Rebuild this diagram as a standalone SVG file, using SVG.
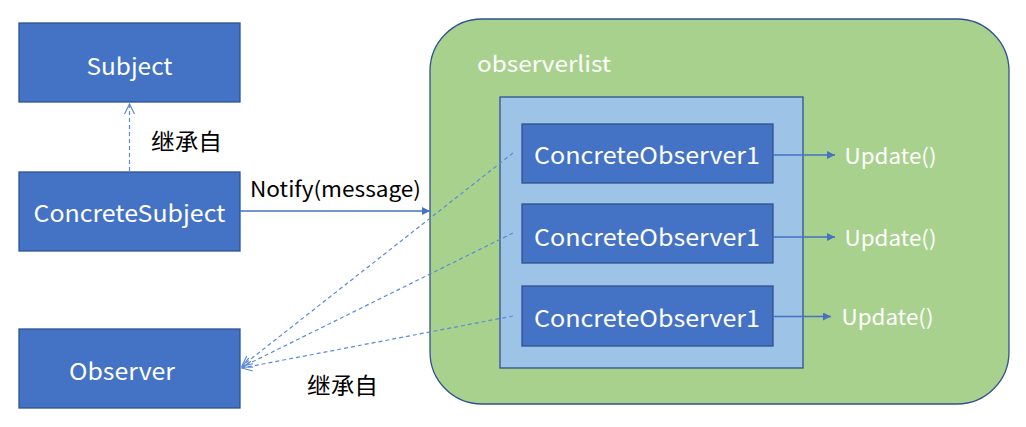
<svg xmlns="http://www.w3.org/2000/svg" width="1026" height="427" viewBox="0 0 1026 427">
<defs>
<style>
.box{fill:#4472C4;stroke:#2F528F;stroke-width:1.3}
.wt{fill:#FFFFFF;font-family:"Noto Sans CJK SC","Noto Sans",sans-serif;text-anchor:middle;dominant-baseline:central}
.bt{fill:#000000;font-family:"Noto Sans CJK SC","Noto Sans",sans-serif;dominant-baseline:central}
.solid{stroke:#4472C4;stroke-width:1.3;fill:none}
.dash{stroke:#5B8BD6;stroke-width:1.2;fill:none;stroke-dasharray:4 3}
</style>
<marker id="tri" viewBox="0 0 10 10" refX="10" refY="5" markerWidth="8" markerHeight="8" markerUnits="userSpaceOnUse" orient="auto">
<path d="M0,0 L10,5 L0,10 z" fill="#4472C4"/>
</marker>
<marker id="open" viewBox="0 0 12 12" refX="11" refY="6" markerWidth="12" markerHeight="12" markerUnits="userSpaceOnUse" orient="auto">
<path d="M1,1 L11,6 L1,11" fill="none" stroke="#5B8BD6" stroke-width="1.2"/>
</marker>
</defs>
<rect width="1026" height="427" fill="#FFFFFF"/>
<g id="observerlist">
<rect x="430" y="19" width="579" height="385" rx="52" ry="52" fill="#A9D18E" stroke="#2F528F" stroke-width="1.3"/>
<text class="wt" x="544" y="62" font-size="22" textLength="134" lengthAdjust="spacingAndGlyphs">observerlist</text>
<rect x="500" y="97" width="303" height="271" fill="#9DC3E6" stroke="#2F528F" stroke-width="1.3"/>
</g>
<g id="subject">
<rect class="box" x="19" y="23" width="221" height="79"/>
<text class="wt" x="129.5" y="65" font-size="23" textLength="86" lengthAdjust="spacingAndGlyphs">Subject</text>
</g>
<g id="concretesubject">
<rect class="box" x="19" y="172" width="221" height="79"/>
<text class="wt" x="129.5" y="212" font-size="23" textLength="192" lengthAdjust="spacingAndGlyphs">ConcreteSubject</text>
</g>
<g id="observer">
<rect class="box" x="19" y="329" width="221" height="79"/>
<text class="wt" x="122" y="370" font-size="23" textLength="106" lengthAdjust="spacingAndGlyphs">Observer</text>
</g>
<g id="concreteobserver1a">
<rect class="box" x="522" y="124" width="251" height="59"/>
<text class="wt" x="647" y="154" font-size="23" textLength="226" lengthAdjust="spacingAndGlyphs">ConcreteObserver1</text>
</g>
<g id="concreteobserver1b">
<rect class="box" x="522" y="204" width="251" height="59"/>
<text class="wt" x="647" y="236" font-size="23" textLength="226" lengthAdjust="spacingAndGlyphs">ConcreteObserver1</text>
</g>
<g id="concreteobserver1c">
<rect class="box" x="522" y="286" width="251" height="60"/>
<text class="wt" x="647" y="317" font-size="23" textLength="226" lengthAdjust="spacingAndGlyphs">ConcreteObserver1</text>
</g>
<g id="connectors">
<line class="dash" x1="129.5" y1="171" x2="129.5" y2="104" marker-end="url(#open)"/>
<line class="solid" x1="240" y1="211" x2="430" y2="211" marker-end="url(#tri)"/>
<line class="dash" x1="513" y1="153" x2="242" y2="366" marker-end="url(#open)"/>
<line class="dash" x1="513" y1="233" x2="242" y2="367" marker-end="url(#open)"/>
<line class="dash" x1="513" y1="316" x2="242" y2="368" marker-end="url(#open)"/>
<line class="solid" x1="773" y1="155" x2="835" y2="155" marker-end="url(#tri)"/>
<line class="solid" x1="773" y1="237" x2="835" y2="237" marker-end="url(#tri)"/>
<line class="solid" x1="773" y1="316.5" x2="831" y2="316.5" marker-end="url(#tri)"/>
</g>
<g id="labels">
<text class="bt" x="151" y="140" font-size="23" textLength="71" lengthAdjust="spacingAndGlyphs">继承自</text>
<text class="bt" x="250" y="188" font-size="21" textLength="171" lengthAdjust="spacingAndGlyphs">Notify(message)</text>
<text class="bt" x="307" y="384" font-size="23" textLength="71" lengthAdjust="spacingAndGlyphs">继承自</text>
<text class="wt" x="890.5" y="155" font-size="21" textLength="92" lengthAdjust="spacingAndGlyphs">Update()</text>
<text class="wt" x="890.5" y="237" font-size="21" textLength="92" lengthAdjust="spacingAndGlyphs">Update()</text>
<text class="wt" x="887.5" y="316" font-size="21" textLength="92" lengthAdjust="spacingAndGlyphs">Update()</text>
</g>
</svg>
